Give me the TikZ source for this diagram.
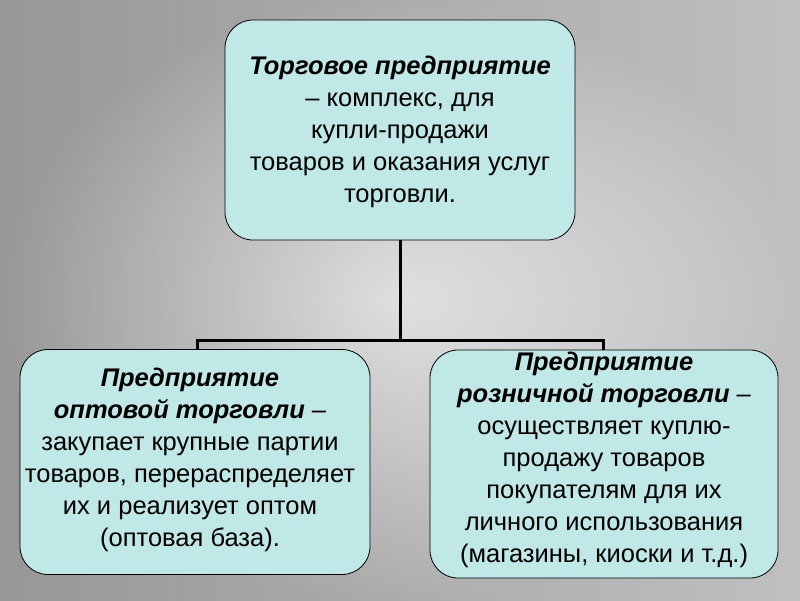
\documentclass[tikz,border=0pt]{standalone}
\usepackage{fontspec}
\setmainfont{Liberation Sans}
\usetikzlibrary{shadows}
\definecolor{boxfill}{HTML}{BFE8E6}
\definecolor{bgdark}{HTML}{8C8C8C}
\definecolor{bglight}{HTML}{F4F4F4}
\tikzset{
  box/.style={draw=black, line width=0.8pt, rounded corners=28pt, fill=boxfill,
    inner sep=0pt},
  txt/.style={align=center, font=\fontsize{25.5}{32}\selectfont, inner sep=0pt},
  conn/.style={line width=3pt, black}
}
\begin{document}
\begin{tikzpicture}[x=1pt,y=-1pt]
\useasboundingbox (0,0) rectangle (800,600);
\shade[inner color=bglight, outer color=bgdark] (0,0) rectangle (800,600);
\shade[left color=bgdark!80, right color=bglight, opacity=0.5] (0,0) rectangle (800,600);
\node[box, minimum width=350pt, minimum height=220pt] (top) at (400,130) {};
\node[box, minimum width=350pt, minimum height=225pt] (left) at (195,462) {};
\node[box, minimum width=348pt, minimum height=228pt] (right) at (604,464) {};
\node[txt] (ttop) at (400,132)
  {\textbf{\textit{Торговое предприятие}}\\– комплекс, для\\купли-продажи\\товаров и оказания услуг\\торговли.};
\node[txt] (tleft) at (190,460)
  {\textbf{\textit{Предприятие}}\\\textbf{\textit{оптовой торговли}} –\\закупает крупные партии\\товаров, перераспределяет\\их и реализует оптом\\(оптовая база).};
\node[txt] (tright) at (604,460)
  {\textbf{\textit{Предприятие}}\\\textbf{\textit{розничной торговли}} –\\осуществляет куплю-\\продажу товаров\\покупателям для их\\личного использования\\(магазины, киоски и т.д.)};
\coordinate (j) at (400,340);
\draw[conn] (top.south) -- (j);
\draw[conn] (left.north -| 197,0) |- (j) -| (right.north -| 603,0);
\end{tikzpicture}
\end{document}
